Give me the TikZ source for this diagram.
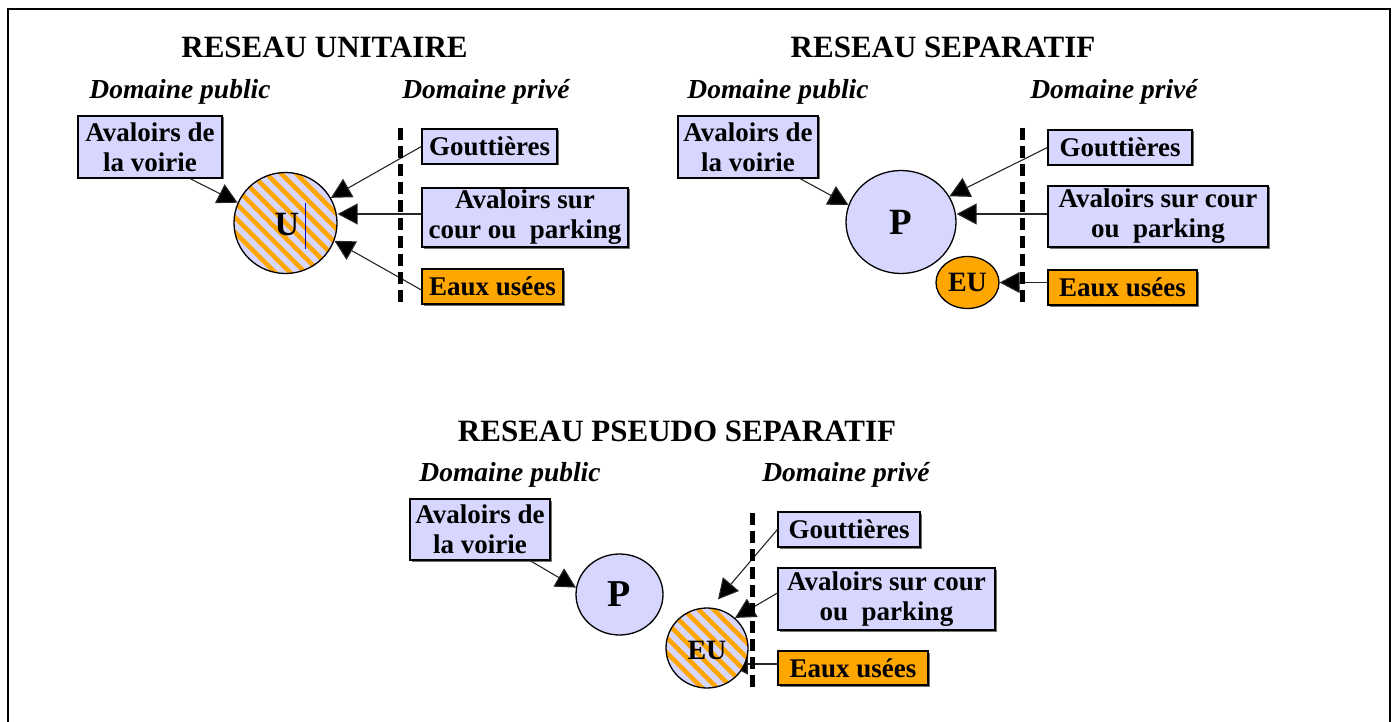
\documentclass[tikz,border=0pt]{standalone}
\usepackage{fontspec}
\setmainfont{Liberation Serif}
\usetikzlibrary{arrows.meta,shapes.geometric,calc,shadows}
\definecolor{lav}{RGB}{214,214,255}
\definecolor{org}{RGB}{255,166,0}
\pgfdeclarelayer{bg}
\pgfsetlayers{bg,main}
\tikzset{
  box/.style={draw=black, line width=1.2pt, fill=lav, inner sep=0pt, align=center,
    font=\fontsize{27}{30}\selectfont\bfseries,
    drop shadow={shadow xshift=1.5pt, shadow yshift=-1.5pt, opacity=0.55, fill=black}},
  obox/.style={box, fill=org},
  titre/.style={anchor=base, inner sep=0pt, font=\fontsize{31}{36}\selectfont\bfseries},
  domaine/.style={anchor=base, inner sep=0pt, font=\fontsize{27.5}{30}\selectfont\bfseries\itshape},
  rond/.style={ellipse, draw=black, line width=1.3pt, fill=lav, inner sep=0pt},
  hatch/.style={rond, path picture={
      \foreach \k in {-14,...,14}
        \draw[org, line width=4.6pt] ([shift={(\k*7.5-90,-\k*7.5-90)}]path picture bounding box.center) -- ++(180,180);}},
  arr/.style={draw=black!85, line width=1.1pt, -{Triangle[length=20pt,width=21pt,fill=black]}},
  limite/.style={line width=5pt, dash pattern=on 12pt off 6pt}
}
\begin{document}
\begin{tikzpicture}[x=1pt,y=-1pt]
\useasboundingbox (0,0) rectangle (1397,722);
\draw[line width=2.5pt] (8,722) -- (8,9) -- (1390,9) -- (1390,722);

% ---------- titles ----------
\node[titre] (t1) at (324.5,57.5) {RESEAU UNITAIRE};
\node[titre] (t2) at (943,57.5) {RESEAU SEPARATIF};
\node[titre] (t3) at (677,441) {RESEAU PSEUDO SEPARATIF};
\node[domaine] (dp1) at (180,99) {Domaine public};
\node[domaine] (dv1) at (486,99) {Domaine privé};
\node[domaine] (dp2) at (778,99) {Domaine public};
\node[domaine] (dv2) at (1114,99) {Domaine privé};
\node[domaine] (dp3) at (510,481) {Domaine public};
\node[domaine] (dv3) at (846,481) {Domaine privé};

% ---------- section 1 ----------
\node[box, minimum width=144pt, minimum height=62pt] (v1) at (150,147) {Avaloirs de\\la voirie};
\node[box, minimum width=135pt, minimum height=35pt] (g1) at (489.5,146.5) {Gouttières};
\node[box, minimum width=206pt, minimum height=59pt] (a1) at (525,217.5) {Avaloirs sur\\cour ou\ \ parking};
\node[obox, minimum width=141pt, minimum height=35pt] (e1) at (492.5,286.5) {Eaux usées};
\node[hatch, minimum width=103pt, minimum height=101pt] (u) at (285.5,223) {};
\node[inner sep=0pt, font=\fontsize{34}{34}\selectfont\bfseries] (ul) at (287,225) {U};
\draw[blue!80!black, line width=0.8pt] ($(u.center)+(20,-20)$) -- ++(0,46);

\draw[arr] ($(v1.south)+(40,0)$) -- (u.157);
\draw[arr] (g1.west) -- (u.29);
\draw[arr] ([yshift=3.5pt]a1.west) -- ([yshift=3.5pt]a1.west -| u.east);
\draw[arr] ([yshift=-3.5pt]e1.west) -- (u.-20);
\draw[limite] (400,128) -- (400,303);

% ---------- section 2 ----------
\node[box, minimum width=140pt, minimum height=62pt] (v2) at (748,147) {Avaloirs de\\la voirie};
\node[box, minimum width=144pt, minimum height=35pt] (g2) at (1120,147.5) {Gouttières};
\node[box, minimum width=220pt, minimum height=61pt] (a2) at (1158,216.5) {Avaloirs sur cour\\ou\ \ parking};
\node[obox, minimum width=149pt, minimum height=35pt] (e2) at (1122.5,287.5) {Eaux usées};
\node[rond, minimum width=110pt, minimum height=103pt, font=\fontsize{37}{37}\selectfont\bfseries] (p2) at (901,222) {P};
\node[rond, fill=org, minimum width=63pt, minimum height=52pt, font=\fontsize{28}{28}\selectfont\bfseries] (eu2) at (967.5,282.5) {EU};

\draw[arr] ($(v2.south)+(52,0)$) -- (p2.162);
\draw[arr] (g2.west) -- (p2.28);
\draw[arr] ([yshift=2.5pt]a2.west) -- ([yshift=2.5pt]a2.west -| p2.east);
\draw[arr] (e2.west |- eu2.east) -- (eu2.east);
\draw[limite] (1022,128) -- (1022,305);

% ---------- section 3 ----------
\node[box, minimum width=140pt, minimum height=61pt] (v3) at (480,529.5) {Avaloirs de\\la voirie};
\node[box, minimum width=142pt, minimum height=35pt] (g3) at (849,529.5) {Gouttières};
\node[box, minimum width=217pt, minimum height=62pt] (a3) at (886.5,599) {Avaloirs sur cour\\ou\ \ parking};
\node[obox, minimum width=150pt, minimum height=34pt] (e3) at (853,668) {Eaux usées};
\node[rond, minimum width=87pt, minimum height=81pt, font=\fontsize{38}{38}\selectfont\bfseries] (p3) at (619.5,594.5) {P};
\node[hatch, minimum width=82pt, minimum height=80pt] (eu3) at (707,648) {};
\node[inner sep=0pt, font=\fontsize{28}{28}\selectfont\bfseries] (eul) at (707,650) {EU};

\coordinate (e3w) at ([yshift=4pt]e3.west);
\coordinate (eu3m) at ($(eu3.center)!0.5!(eu3.east)$);
\draw[arr] ($(v3.south)+(50,0)$) -- (p3.171);
\draw[arr] (g3.west) -- ($(eu3.north)+(11,-8)$);
\begin{pgfonlayer}{bg}
\draw[arr] ([yshift=6pt]a3.west) -- (eu3.47);
\draw[arr] (e3w) -- (e3w -| eu3m);
\end{pgfonlayer}
\draw[limite] (752,513) -- (752,690);
\end{tikzpicture}
\end{document}
